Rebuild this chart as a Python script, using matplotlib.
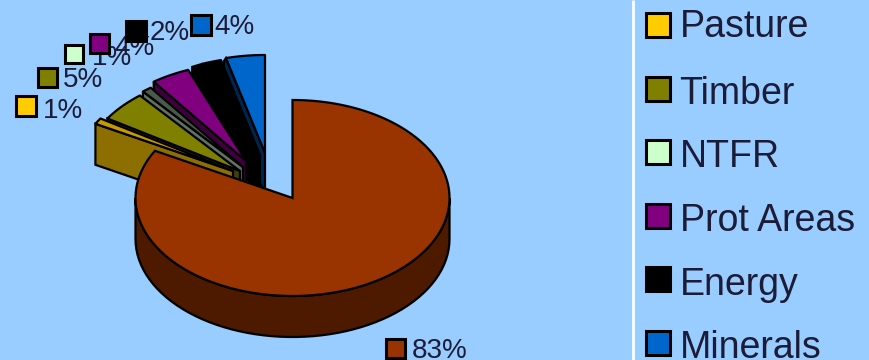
import matplotlib
matplotlib.use("Agg")
import matplotlib.pyplot as plt
import numpy as np
from matplotlib.patches import Polygon, Rectangle

plt.rcParams['font.family'] = ['Liberation Sans', 'DejaVu Sans']

# values in percent, clockwise from 12 o'clock
categories = ['Other', 'Pasture', 'Timber', 'NTFR', 'Prot Areas', 'Energy', 'Minerals']
values = [83, 1, 5, 1, 4, 2, 4]

top_colors = ['#993300', '#ffcc00', '#808000', '#ccffcc', '#800080', '#000000', '#0066cc']
slice_colors = ['#993300', '#c79a00', '#808000', '#4a5a48', '#800080', '#000000', '#0066cc']
side_colors = ['#4d1a00', '#8c6f00', '#404000', '#5f735f', '#400040', '#000000', '#00264d']

# pie geometry, pixels
cx, cy = 292.5, 198
rx, ry = 157, 98
depth = 41
apex_x = [292.5, 233, 240, 243, 246, 260, 265]
apex_y = [198, 171, 171, 167, 161, 155, 153]
# how far the cut face of a slice reaches past its rim
face_dx = [0, 0, 0, 0, 0, -10, -2]

# legend and label layout, pixels
legend_y = [11, 75, 138, 202, 265, 329]
legend_base = [37, 104, 167, 231, 295, 358]
marker_xy = [(386, 339), (16, 96), (38, 68), (65, 45), (90, 34), (126, 21), (191, 15)]
marker_size = [19, 20, 19, 18, 19, 20, 20]
label_xy = [(412, 358), (43, 118), (63, 87), (92, 65), (114, 55), (150, 40), (214, 34)]

BG = '#99ccff'
fig = plt.figure(figsize=(8.69, 3.6), dpi=100, facecolor=BG)
ax = fig.add_axes([0, 0, 1, 1])
ax.set_xlim(0, 869)
ax.set_ylim(360, 0)
ax.axis('off')

fracs = np.array(values) / sum(values)
stops = np.concatenate([[0], np.cumsum(fracs)]) * 2 * np.pi


def rim(x0, y0, t0, t1, n=60):
    t = np.linspace(t0, t1, n)
    return np.column_stack([x0 + rx * np.sin(t), y0 - ry * np.cos(t)])


def slice3d(i, z):
    t0, t1 = stops[i], stops[i + 1]
    x0, y0 = apex_x[i], apex_y[i]
    r = rim(x0, y0, t0, t1)
    # cut face on the leading edge
    edge = r[0] + (face_dx[i], 3 if face_dx[i] else 0)
    face = [(x0, y0), r[0], edge, edge + (0, depth), (x0, y0 + depth)]
    ax.add_patch(Polygon(face, fc=side_colors[i], ec='k', lw=1.6, zorder=z))
    ax.add_patch(Polygon(np.vstack([[(x0, y0)], r]), fc=slice_colors[i], ec='k',
                         lw=1.6, joinstyle='round', zorder=z + 0.5))


# back slices first, nearest to the viewer last
for n, i in enumerate(range(6, 0, -1)):
    slice3d(i, 2 + n)

# the large slice: outer wall, then top
low = rim(cx, cy, np.pi / 2, 3 * np.pi / 2)
wall = np.vstack([low, (low + (0, depth))[::-1]])
ax.add_patch(Polygon(wall, fc=side_colors[0], ec='k', lw=1.6, zorder=10))
top = np.vstack([[(cx, cy)], rim(cx, cy, stops[0], stops[1], 200)])
ax.add_patch(Polygon(top, fc=slice_colors[0], ec='k', lw=1.6, zorder=11))

# value labels with their key squares
for i in range(len(values)):
    x, y = label_xy[i]
    ax.text(x, y, f'{values[i]}%', fontsize=20, color='#1c1c38', va='baseline', zorder=12)
for i in range(len(values)):
    x, y = marker_xy[i]
    s = marker_size[i]
    ax.add_patch(Rectangle((x, y), s, s, fc=top_colors[i], ec='k', lw=2.2, zorder=13))

# legend panel
ax.plot([632.5, 632.5], [0, 360], color='#f2fbff', lw=2.2, zorder=1, solid_capstyle='butt')
for j in range(6):
    ax.add_patch(Rectangle((645.5, legend_y[j] + 1.5), 24, 24, fc=top_colors[j + 1], ec='k',
                           lw=2.2, zorder=13))
    ax.text(679.5, legend_base[j], categories[j + 1], fontsize=27, color='#1c1c38',
            va='baseline', zorder=13)

fig.savefig('out.png', dpi=100, facecolor=BG)
